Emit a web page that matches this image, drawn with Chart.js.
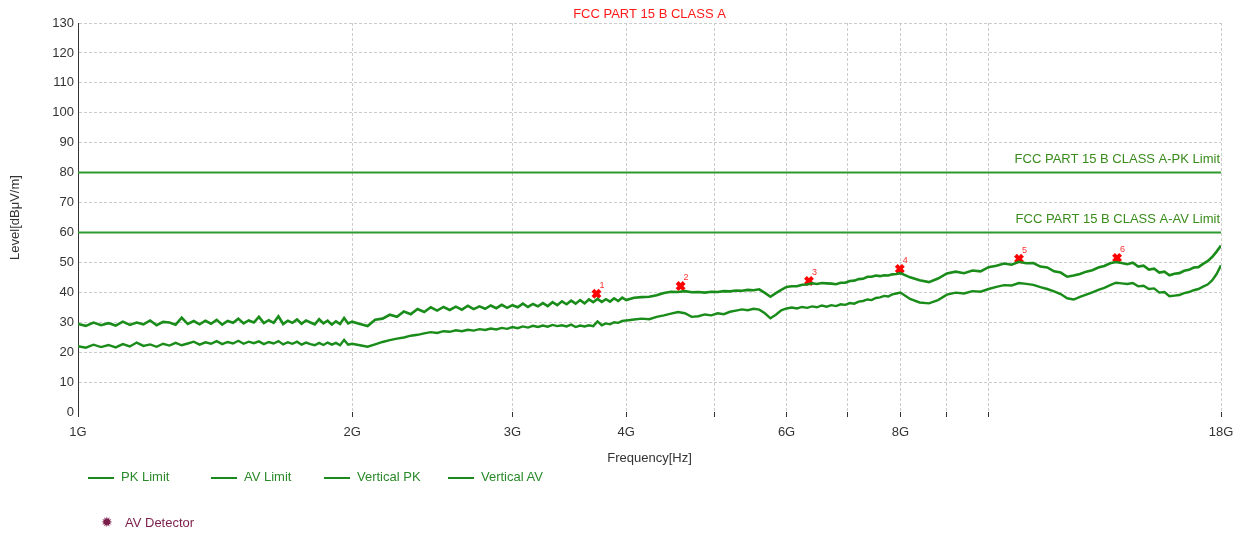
<!DOCTYPE html>
<html>
<head>
<meta charset="utf-8">
<script src="https://cdn.jsdelivr.net/npm/chart.js@4"></script>
<style>
  body { margin: 0; background: #fff; font-family: "Liberation Sans", Arial, sans-serif; }
  #wrap { position: relative; width: 1244px; height: 534px; }
  .lg { position: absolute; font-size: 13px; line-height: 16px; white-space: nowrap; }
  .lg i { display: inline-block; width: 26px; height: 0; border-top: 2px solid #1a8a1a; vertical-align: middle; margin-right: 7px; }
</style>
</head>
<body>
<div id="wrap">
  <canvas id="chart" width="1244" height="534"></canvas>
  <div class="lg" style="left:88px;top:469px;color:#2a8a2a"><i></i>PK Limit</div>
  <div class="lg" style="left:211px;top:469px;color:#2a8a2a"><i></i>AV Limit</div>
  <div class="lg" style="left:324px;top:469px;color:#2a8a2a"><i></i>Vertical PK</div>
  <div class="lg" style="left:448px;top:469px;color:#2a8a2a"><i></i>Vertical AV</div>
  <div class="lg" style="left:101px;top:514px;color:#7a1d4a"><span style="display:inline-block;width:24px;font-size:14px;">&#10041;</span>AV Detector</div>
</div>
<script>
// frequencies in GHz
const freqs = [
  1.00,1.02,1.04,1.06,1.08,1.10,1.12,1.14,1.16,1.18,
  1.20,1.22,1.24,1.26,1.28,1.30,1.32,1.34,1.36,1.38,
  1.40,1.42,1.44,1.46,1.48,1.50,1.52,1.54,1.56,1.58,
  1.60,1.62,1.64,1.66,1.68,1.70,1.72,1.74,1.76,1.78,
  1.80,1.82,1.84,1.86,1.88,1.90,1.92,1.94,1.96,1.98,2.00,
  2.04,2.08,2.12,2.16,2.20,2.24,2.28,2.32,2.36,2.40,
  2.44,2.48,2.52,2.56,2.60,2.64,2.68,2.72,2.76,2.80,
  2.84,2.88,2.92,2.96,3.00,3.04,3.08,3.12,3.16,3.20,
  3.24,3.28,3.32,3.36,3.40,3.44,3.48,3.52,3.56,3.60,
  3.64,3.68,3.72,3.76,3.80,3.84,3.88,3.92,3.96,4.00,
  4.08,4.16,4.24,4.32,4.40,4.48,4.56,4.64,4.72,4.80,
  4.88,4.96,5.04,5.12,5.20,5.28,5.36,5.44,5.52,5.60,
  5.68,5.76,5.84,5.92,6.00,6.08,6.16,6.24,6.32,6.40,
  6.48,6.56,6.64,6.72,6.80,6.88,6.96,7.04,7.12,7.20,
  7.28,7.36,7.44,7.52,7.60,7.68,7.76,7.84,7.92,8.00,
  8.2,8.4,8.6,8.8,9.0,9.2,9.4,9.6,9.8,10.0,
  10.2,10.4,10.6,10.8,11.0,11.2,11.4,11.6,11.8,12.0,
  12.2,12.4,12.6,12.8,13.0,13.2,13.4,13.6,13.8,14.0,
  14.2,14.4,14.6,14.8,15.0,15.2,15.4,15.6,15.8,16.0,
  16.2,16.4,16.6,16.8,17.0,17.2,17.4,17.6,17.8,18.0
];

const verticalPK = [
  29.4,28.8,29.9,29.0,29.7,28.9,30.2,29.1,29.9,29.3,
  30.6,29.0,30.1,29.9,29.2,31.5,29.4,30.4,29.3,30.5,
  29.5,30.8,29.2,30.4,29.8,31.2,29.6,30.6,29.9,31.8,
  29.7,30.7,29.8,32.0,29.4,30.5,29.8,30.9,29.5,30.6,
  29.9,29.3,31.0,29.6,30.5,29.2,30.3,29.4,31.4,29.6,30.2,
  29.4,28.7,30.8,31.2,32.5,31.8,33.6,32.7,34.4,33.4,
  35.0,33.9,35.1,34.1,35.2,34.2,35.5,34.4,35.3,34.5,
  35.6,34.7,35.8,34.8,35.7,35.0,36.2,35.1,36.1,35.3,
  36.4,35.4,36.7,35.7,37.0,36.0,37.2,36.2,37.4,36.3,
  37.6,36.7,37.8,36.8,37.7,36.9,38.0,37.1,38.2,37.4,
  38.2,38.4,38.5,39.0,39.8,40.2,40.1,40.4,40.0,40.1,
  39.9,40.2,40.1,40.4,40.3,40.6,40.5,40.8,40.7,41.0,
  39.8,38.5,39.7,40.8,41.8,42.0,42.0,42.5,42.6,43.0,
  42.8,43.1,43.0,42.9,42.7,43.2,43.2,43.8,43.9,44.4,
  44.5,45.2,45.2,45.6,45.4,45.7,45.6,46.0,46.1,46.4,
  45.0,44.0,43.4,44.6,46.3,46.9,46.4,47.3,47.0,48.4,
  48.9,49.6,49.2,50.2,49.7,49.8,48.6,48.3,47.0,46.6,
  45.2,45.6,46.1,46.9,47.4,48.3,48.8,49.7,50.1,49.8,
  49.4,49.9,48.6,48.9,47.6,47.9,46.6,46.9,45.7,46.2,
  46.4,47.2,47.5,48.3,48.4,49.5,50.4,51.8,53.6,55.6
];

const verticalAV = [
  22.0,21.5,22.5,21.7,22.4,21.6,22.7,21.9,23.2,22.1,
  22.6,21.8,22.8,22.2,23.1,22.3,22.9,23.5,22.5,23.3,
  22.8,23.7,22.7,23.4,22.9,23.8,22.8,23.5,23.0,23.6,
  22.7,23.4,22.9,23.7,22.6,23.3,22.8,23.5,22.5,23.2,
  22.7,22.3,23.1,22.4,23.2,22.5,23.1,22.3,24.1,22.5,22.8,
  22.3,21.8,22.6,23.4,24.0,24.5,24.9,25.5,25.8,26.3,
  26.7,26.4,27.0,26.8,27.3,27.0,27.5,27.2,27.7,27.4,
  27.9,27.6,28.1,27.8,28.4,28.0,28.6,28.2,28.8,28.4,
  28.9,28.5,29.1,28.7,29.0,28.6,29.2,28.4,28.9,28.6,
  29.0,28.7,30.3,29.0,29.6,29.3,30.0,29.8,30.4,30.6,
  30.9,31.2,31.0,31.8,32.3,32.9,33.4,33.0,31.8,32.0,
  32.6,32.3,33.0,32.7,33.5,33.9,34.3,34.0,34.5,34.2,
  33.0,31.3,32.5,34.0,34.6,34.9,34.6,35.1,34.8,35.3,
  35.0,35.6,35.2,35.7,35.4,36.0,35.8,36.4,36.2,36.9,
  37.1,37.6,37.4,38.1,38.3,38.8,38.6,39.3,39.6,39.9,
  37.8,36.6,36.3,37.4,39.2,39.9,39.6,40.4,40.2,41.1,
  41.8,42.4,42.3,43.1,42.8,42.5,41.7,41.1,40.3,39.4,
  38.0,37.6,38.5,39.2,40.0,40.8,41.5,42.4,43.2,43.0,
  42.8,43.1,42.0,42.2,41.1,41.3,39.9,40.1,38.7,38.9,
  39.1,39.7,40.1,40.7,41.1,41.9,42.6,44.0,46.1,49.0
];

const limitFreqs = [1, 18];
const pkLimit = [80, 80];
const avLimit = [60, 60];

const markerFreqs = [3.71, 4.59, 6.35, 7.99, 10.8, 13.84];
const markerLevels = [39.5, 42.1, 43.8, 47.8, 51.2, 51.5];
const markerLabels = ['1', '2', '3', '4', '5', '6'];

const tickValues = [1, 2, 3, 4, 5, 6, 7, 8, 9, 10, 18];
const tickLabels = { 1: '1G', 2: '2G', 3: '3G', 4: '4G', 6: '6G', 8: '8G', 18: '18G' };

const FONT = '"Liberation Sans", Arial, sans-serif';

function pts(xs, ys) {
  return xs.map((x, i) => ({ x: x, y: ys[i] }));
}

const overlay = {
  id: 'overlay',
  afterDraw(chart) {
    const ctx = chart.ctx;
    const xs = chart.scales.x, ys = chart.scales.y;
    const area = chart.chartArea;
    ctx.save();
    ctx.font = '13px ' + FONT;
    ctx.fillStyle = '#ff1a1a';
    ctx.textAlign = 'center';
    ctx.textBaseline = 'middle';
    ctx.fillText('FCC PART 15 B CLASS A', (area.left + area.right) / 2, 14);

    ctx.fillStyle = '#3a8c1c';
    ctx.textAlign = 'right';
    ctx.textBaseline = 'bottom';
    ctx.fillText('FCC PART 15 B CLASS A-PK Limit', area.right - 1, ys.getPixelForValue(pkLimit[0]) - 7);
    ctx.fillText('FCC PART 15 B CLASS A-AV Limit', area.right - 1, ys.getPixelForValue(avLimit[0]) - 7);

    ctx.font = '9px ' + FONT;
    ctx.fillStyle = '#ff3030';
    ctx.textAlign = 'left';
    ctx.textBaseline = 'bottom';
    markerFreqs.forEach((f, i) => {
      ctx.fillText(markerLabels[i], xs.getPixelForValue(f) + 3, ys.getPixelForValue(markerLevels[i]) - 4);
    });
    ctx.restore();
  }
};

new Chart(document.getElementById('chart'), {
  type: 'line',
  data: {
    datasets: [
      {
        label: 'PK Limit',
        data: pts(limitFreqs, pkLimit),
        borderColor: '#2e9a2e',
        borderWidth: 2,
        pointRadius: 0
      },
      {
        label: 'AV Limit',
        data: pts(limitFreqs, avLimit),
        borderColor: '#2e9a2e',
        borderWidth: 2,
        pointRadius: 0
      },
      {
        label: 'Vertical PK',
        data: pts(freqs, verticalPK),
        borderColor: '#1a8c1a',
        borderWidth: 2.6,
        pointRadius: 0,
        tension: 0
      },
      {
        label: 'Vertical AV',
        data: pts(freqs, verticalAV),
        borderColor: '#1a8c1a',
        borderWidth: 2.4,
        pointRadius: 0,
        tension: 0
      },
      {
        label: 'AV Detector',
        data: pts(markerFreqs, markerLevels),
        showLine: false,
        pointStyle: 'crossRot',
        pointRadius: 5,
        pointBorderWidth: 4,
        pointBorderColor: '#ff0000',
        pointBackgroundColor: '#ff0000'
      }
    ]
  },
  options: {
    responsive: false,
    animation: false,
    layout: { padding: { left: 0, right: 23, top: 23, bottom: 65 } },
    plugins: {
      legend: { display: false },
      title: { display: false },
      tooltip: { enabled: false }
    },
    scales: {
      x: {
        type: 'logarithmic',
        min: 1,
        max: 18,
        afterBuildTicks: (s) => { s.ticks = tickValues.map(v => ({ value: v })); },
        afterFit: (s) => { s.height = 57; },
        ticks: {
          autoSkip: false,
          maxRotation: 0,
          padding: 8,
          color: '#333',
          font: { family: FONT, size: 13 },
          callback: (v) => tickLabels[v] || ''
        },
        grid: {
          color: '#cccccc',
          tickColor: '#333',
          tickLength: 5,
          drawTicks: true
        },
        border: { display: false, dash: [3, 2] },
        title: {
          display: true,
          text: 'Frequency[Hz]',
          color: '#333',
          font: { family: FONT, size: 13 },
          padding: { top: 4, bottom: 3 }
        }
      },
      y: {
        min: 0,
        max: 130,
        afterFit: (s) => { s.width = 78; },
        ticks: {
          stepSize: 10,
          padding: 4,
          color: '#333',
          font: { family: FONT, size: 13 }
        },
        grid: {
          drawTicks: false,
          color: (c) => c.tick && c.tick.value === 0 ? 'rgba(0,0,0,0)' : '#cccccc'
        },
        border: { display: true, color: '#333', width: 1, dash: [3, 2] },
        title: {
          display: true,
          text: 'Level[dBμV/m]',
          color: '#333',
          font: { family: FONT, size: 13 },
          padding: { top: 8, bottom: 4 }
        }
      }
    }
  },
  plugins: [overlay]
});
</script>
</body>
</html>
